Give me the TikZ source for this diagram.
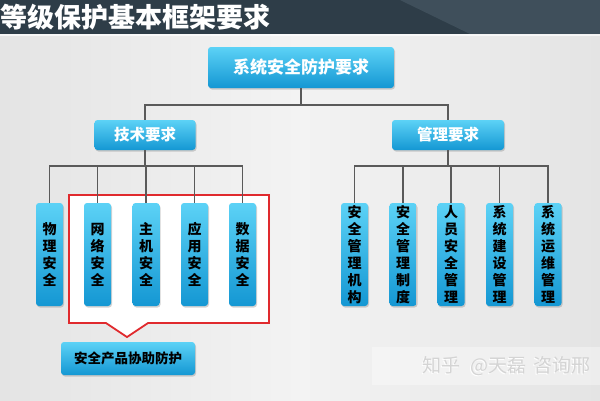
\documentclass[tikz,border=0pt]{standalone}
\usepackage{fontspec}
\setmainfont{Noto Sans CJK SC}
\usetikzlibrary{shadows}
\definecolor{hdr}{HTML}{2E3D48}
\definecolor{hdrlt}{HTML}{4B5C68}
\definecolor{bgl}{HTML}{E4E4E4}
\definecolor{bgm}{HTML}{F3F3F3}
\definecolor{boxtop}{HTML}{5CD2F6}
\definecolor{boxbot}{HTML}{1497D3}
\definecolor{linec}{HTML}{5A5A5A}
\definecolor{redc}{HTML}{E02A2E}
\tikzset{
  box/.style={rounded corners=3pt, top color=boxtop, bottom color=boxbot, inner sep=0pt,
    drop shadow={opacity=0.35, shadow xshift=1pt, shadow yshift=-1.5pt}},
  hbox/.style={box, text=white, font=\bfseries},
  vbox/.style={box, minimum width=27pt, minimum height=103pt, align=center,
    font=\fontsize{14}{17}\selectfont\bfseries, text=black},
  conn/.style={draw=linec, line width=1.1pt},
  wmark/.style={anchor=west, font=\fontsize{19}{19}\selectfont, inner sep=0pt},
}
\newcommand{\wmtext}{知乎\hspace{10pt}@天磊\hspace{7pt}咨询邢}
\begin{document}
\begin{tikzpicture}[x=1pt,y=-1pt]
\useasboundingbox (0,0) rectangle (600,400);
\begin{scope}
\clip (0,0) rectangle (600,400);
% background
\shade[left color=bgl, right color=bgl, middle color=bgm] (0,34) rectangle (600,400);
\fill[hdr] (0,0) rectangle (600,34);
\fill[hdrlt, opacity=0.6] (400,0) -- (600,0) -- (600,34) -- (470,34) -- cycle;
\fill[white, opacity=0.7] (0,34) rectangle (600,36);
% watermark
\fill[white, opacity=0.35] (372,347) rectangle (600,385);
\node[wmark, text=white] (wm2) at (421.5,367) {\wmtext};
\node[wmark, text=black!17] (wm) at (422,366.5) {\wmtext};
\end{scope}
\node[anchor=west, text=white, font=\fontsize{27}{27}\selectfont\bfseries, inner sep=0pt] (title) at (0,17) {等级保护基本框架要求};
% red callout
\draw[redc, line width=1.8pt, fill=white] (69,195) -- (269,195) -- (269,323) -- (148,323) -- (127,337) -- (106,323) -- (69,323) -- cycle;
% connectors
\coordinate (b1) at (301,105);
\coordinate (tb) at (145,166);
\coordinate (mb) at (448,166);
% nodes
\node[hbox, minimum width=186pt, minimum height=41pt, font=\fontsize{17}{17}\selectfont\bfseries] (top) at (301,67.5) {系统安全防护要求};
\node[hbox, minimum width=101pt, minimum height=30pt, font=\fontsize{15.5}{15.5}\selectfont\bfseries] (tech) at (145,135) {技术要求};
\node[hbox, minimum width=112pt, minimum height=30pt, font=\fontsize{15.5}{15.5}\selectfont\bfseries] (mgmt) at (448,135) {管理要求};
\node[vbox] (t1) at (49.5,254.5) {物\\理\\安\\全};
\node[vbox] (t2) at (97.5,254.5) {网\\络\\安\\全};
\node[vbox] (t3) at (146,254.5) {主\\机\\安\\全};
\node[vbox] (t4) at (194.5,254.5) {应\\用\\安\\全};
\node[vbox] (t5) at (242.5,254.5) {数\\据\\安\\全};
\node[vbox] (m1) at (354.5,254.5) {安\\全\\管\\理\\机\\构};
\node[vbox] (m2) at (403,254.5) {安\\全\\管\\理\\制\\度};
\node[vbox] (m3) at (451,254.5) {人\\员\\安\\全\\管\\理};
\node[vbox] (m4) at (499.5,254.5) {系\\统\\建\\设\\管\\理};
\node[vbox] (m5) at (548,254.5) {系\\统\\运\\维\\管\\理};
\node[box, minimum width=134pt, minimum height=33pt, font=\fontsize{13.5}{13.5}\selectfont\bfseries, text=black] (prod) at (128,358.5) {安全产品协助防护};
% connector lines
\draw[conn] (top.south) -- (b1);
\draw[conn] (tech.north) |- (b1) -| (mgmt.north);
\draw[conn] (tech.south) -- (tb);
\draw[conn] (t1.north) |- (tb) -| (t5.north);
\foreach \i in {2,3,4} \draw[conn] (t\i.north) -- (t\i.north |- tb);
\draw[conn] (mgmt.south) -- (mb);
\draw[conn] (m1.north) |- (mb) -| (m5.north);
\foreach \i in {2,3,4} \draw[conn] (m\i.north) -- (m\i.north |- mb);
\end{tikzpicture}
\end{document}
